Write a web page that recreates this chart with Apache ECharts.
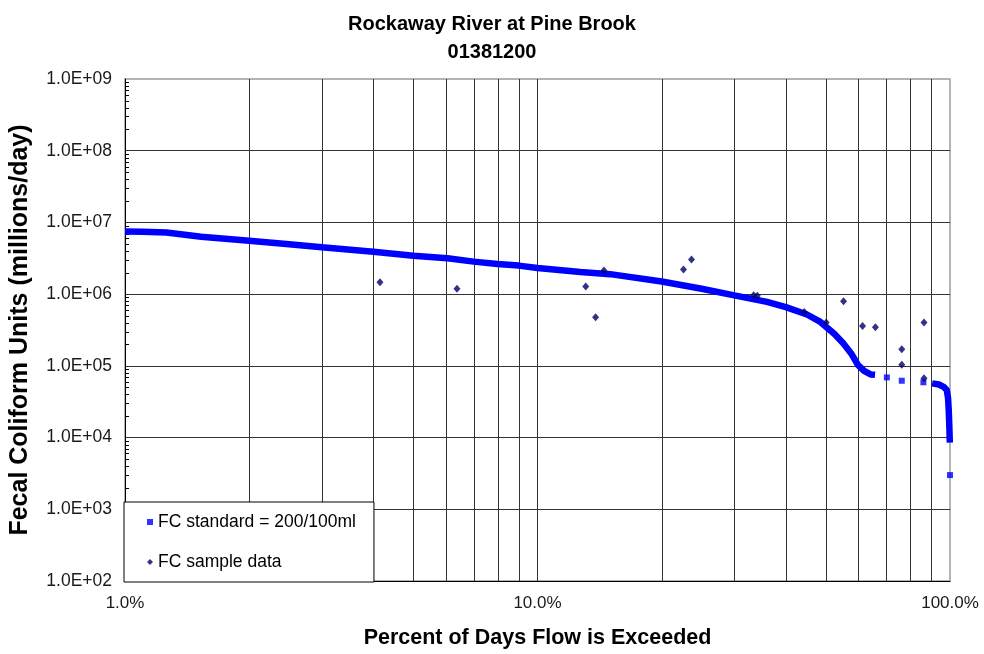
<!DOCTYPE html>
<html>
<head>
<meta charset="utf-8">
<script src="https://cdn.jsdelivr.net/npm/echarts@6/dist/echarts.min.js"></script>
<style>
  html, body { margin: 0; padding: 0; background: #fff; }
  #chart { width: 984px; height: 654px; }
</style>
</head>
<body>
<div id="chart"></div>
<script>
// Flow-duration load curve (FC standard), continuous upper part
const standardPct = [1.0, 1.1, 1.26, 1.53, 2.0, 2.5, 3.0, 4.0, 5.0, 6.05, 7.0, 8.0, 9.0, 10.0,
  12.7, 15.0, 20.0, 25.0, 30.0, 36.0, 40.0, 45.0, 48.5, 52.4, 55.1, 57.6, 59.8, 61.9, 64.2, 65.8];
const standardLoad = [7.45e6, 7.4e6, 7.26e6, 6.3e6, 5.56e6, 4.95e6, 4.5e6, 3.91e6, 3.44e6, 3.16e6,
  2.84e6, 2.64e6, 2.5e6, 2.32e6, 2.03e6, 1.9e6, 1.5e6, 1.19e6, 9.6e5, 7.8e5, 6.6e5, 5.2e5, 4.1e5,
  2.8e5, 2.06e5, 1.49e5, 1.03e5, 8.5e4, 7.6e4, 7.5e4];
// Isolated low-flow points
const stepPct = [70.3, 76.4, 86.2, 99.99];
const stepLoad = [6.9e4, 6.2e4, 5.9e4, 3.0e3];
// Continuous tail at the driest end
const tailPct = [90.5, 94.0, 96.5, 98.2, 98.9, 99.3, 99.6, 99.9];
const tailLoad = [5.7e4, 5.5e4, 5.1e4, 4.6e4, 3.6e4, 2.4e4, 1.5e4, 8.5e3];
// Fecal coliform samples
const samplePct = [4.15, 6.38, 13.09, 13.83, 14.49, 22.59, 23.62, 33.42, 34.1, 44.33, 50.1,
  55.2, 61.37, 65.95, 76.39, 76.39, 86.5, 86.5];
const sampleLoad = [1.47e6, 1.19e6, 1.28e6, 4.75e5, 2.13e6, 2.2e6, 3.03e6, 9.66e5, 9.5e5, 5.65e5,
  4.02e5, 7.93e5, 3.61e5, 3.46e5, 1.71e5, 1.04e5, 4.02e5, 6.7e4];

// Axis decoration: intermediate vertical gridlines and inner minor ticks on the value axis
const xMinorGrid = [2, 3, 4, 5, 6, 7, 8, 9, 20, 30, 40, 50, 60, 70, 80, 90];
const yDecades = [1e2, 1e3, 1e4, 1e5, 1e6, 1e7, 1e8];
const yMantissas = [2, 3, 4, 5, 6, 7, 8, 9];
const yMinorTicks = [];
yDecades.forEach(d => yMantissas.forEach(m => yMinorTicks.push(m * d)));

const X_MIN = 1, X_MAX = 100, Y_MIN = 1e2, Y_MAX = 1e9;
const FONT = 'Liberation Sans, Arial, sans-serif';
const NAME_STD = 'FC standard = 200/100ml';
const NAME_SMP = 'FC sample data';

const zip = (a, b) => a.map((v, i) => [v, b[i]]);

const chart = echarts.init(document.getElementById('chart'), null, { renderer: 'canvas' });
chart.setOption({
  animation: false,
  backgroundColor: '#fff',
  title: {
    text: 'Rockaway River at Pine Brook\n01381200',
    left: 'center',
    top: 5,
    textStyle: { fontFamily: FONT, fontSize: 20, fontWeight: 'bold', color: '#000', lineHeight: 28 }
  },
  grid: {
    left: 123, right: 34, top: 79, bottom: 70,
    show: true, borderColor: '#9c9c9c', borderWidth: 1.5, backgroundColor: '#fff'
  },
  legend: {
    orient: 'vertical',
    left: 124, top: 502,
    padding: [11, 18, 11, 23],
    itemGap: 22,
    itemWidth: 6, itemHeight: 6,
    backgroundColor: '#fff',
    borderColor: '#000', borderWidth: 1,
    textStyle: { fontFamily: FONT, fontSize: 17.5, color: '#000' },
    data: [{ name: NAME_STD, icon: 'rect' }, { name: NAME_SMP, icon: 'diamond' }]
  },
  xAxis: {
    type: 'log', logBase: 10, min: X_MIN, max: X_MAX,
    name: 'Percent of Days Flow is Exceeded',
    nameLocation: 'middle', nameGap: 46,
    nameTextStyle: { fontFamily: FONT, fontSize: 21.5, fontWeight: 'bold', color: '#000' },
    axisLine: { show: true, lineStyle: { color: '#000', width: 1 } },
    axisTick: { show: false },
    axisLabel: {
      margin: 14, fontFamily: FONT, fontSize: 17, color: '#1a1a1a',
      formatter: v => Number(v).toFixed(1) + '%'
    },
    splitLine: { show: true, showMaxLine: false, lineStyle: { color: '#333', width: 1 } }
  },
  yAxis: {
    type: 'log', logBase: 10, min: Y_MIN, max: Y_MAX,
    name: 'Fecal Coliform Units (millions/day)',
    nameLocation: 'middle', nameGap: 92, nameRotate: 90,
    nameTextStyle: { fontFamily: FONT, fontSize: 25, fontWeight: 'bold', color: '#000' },
    axisLine: { show: true, lineStyle: { color: '#000', width: 1 } },
    axisTick: { show: false },
    axisLabel: {
      margin: 13, fontFamily: FONT, fontSize: 17.5, color: '#1a1a1a',
      formatter: v => {
        const e = Math.round(Math.log10(v));
        return '1.0E' + (e < 0 ? '-' : '+') + String(Math.abs(e)).padStart(2, '0');
      }
    },
    splitLine: { show: true, showMaxLine: false, lineStyle: { color: '#333', width: 1 } }
  },
  series: [
    {
      type: 'custom', coordinateSystem: 'cartesian2d', silent: true, z: 1,
      data: xMinorGrid.map(v => [v, Y_MIN]),
      renderItem: (params, api) => {
        const a = api.coord([api.value(0), Y_MAX]);
        const b = api.coord([api.value(0), Y_MIN]);
        const x = Math.round(a[0]) + 0.5;
        return { type: 'line', shape: { x1: x, y1: a[1], x2: x, y2: b[1] },
                 style: { stroke: '#333', lineWidth: 1 } };
      }
    },
    {
      type: 'custom', coordinateSystem: 'cartesian2d', silent: true, z: 1,
      data: yMinorTicks.map(v => [X_MIN, v]),
      renderItem: (params, api) => {
        const p = api.coord([X_MIN, api.value(1)]);
        const y = Math.round(p[1]) + 0.5;
        return { type: 'line', shape: { x1: p[0], y1: y, x2: p[0] + 4, y2: y },
                 style: { stroke: '#000', lineWidth: 1 } };
      }
    },
    {
      name: NAME_STD, type: 'scatter', z: 3,
      symbol: 'rect', symbolSize: 6,
      itemStyle: { color: '#0000ff' },
      data: zip(stepPct, stepLoad)
    },
    {
      name: NAME_STD, type: 'line', z: 3, showSymbol: false, symbol: 'none',
      lineStyle: { color: '#0000ff', width: 6.5 }, itemStyle: { color: '#0000ff' },
      data: zip(standardPct, standardLoad)
    },
    {
      name: NAME_STD, type: 'line', z: 3, showSymbol: false, symbol: 'none',
      lineStyle: { color: '#0000ff', width: 6.5 }, itemStyle: { color: '#0000ff' },
      data: zip(tailPct, tailLoad)
    },
    {
      name: NAME_SMP, type: 'scatter', z: 5,
      symbol: 'diamond', symbolSize: [7, 8],
      itemStyle: { color: '#000066' },
      data: zip(samplePct, sampleLoad)
    }
  ]
});
</script>
</body>
</html>
